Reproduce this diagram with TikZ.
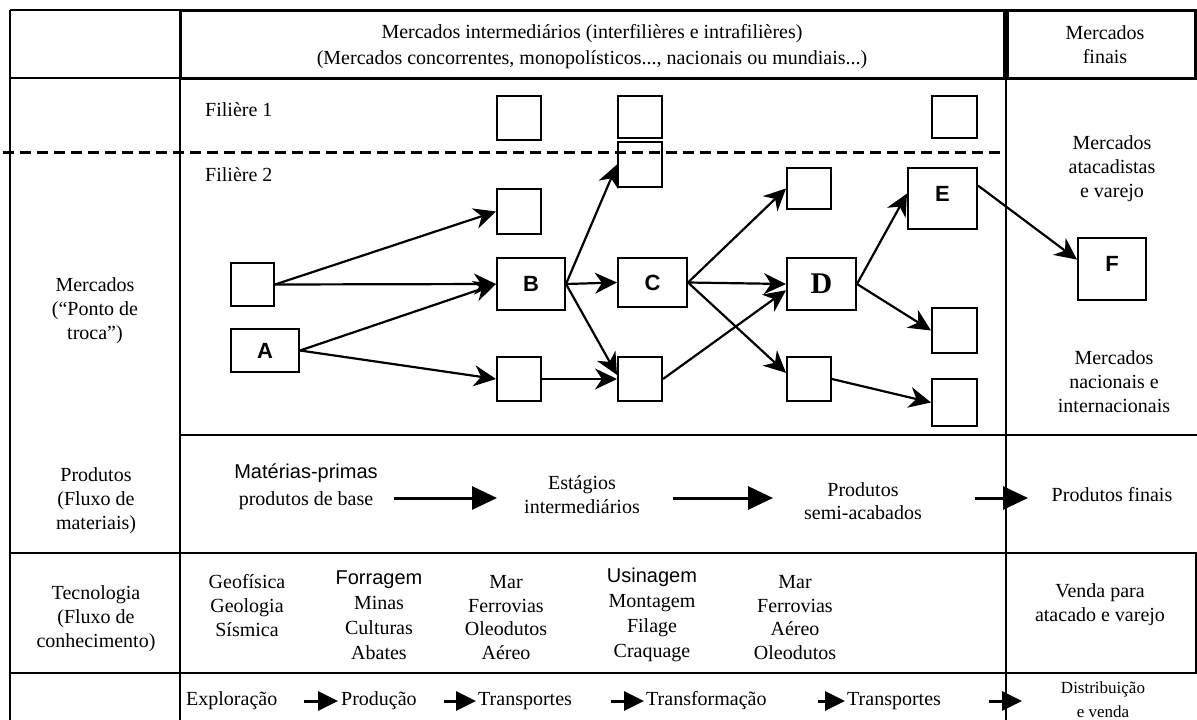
\documentclass[tikz,border=0pt]{standalone}
\usepackage{fontspec}
\setmainfont{Liberation Serif}
\setsansfont{Liberation Sans}
\usetikzlibrary{arrows.meta}

\tikzset{
  cell/.style={line width=2pt},
  frame/.style={line width=3pt},
  box/.style={draw, line width=2pt, inner sep=0pt, minimum width=44pt, minimum height=44pt},
  lett/.style={font=\fontsize{22}{24}\selectfont\sffamily\bfseries},
  link/.style={line width=2.2pt, -{Stealth[length=22pt,width=21pt,inset=7pt]}},
  txt/.style={font=\fontsize{20}{24}\selectfont, align=center, inner sep=0pt},
  bigflow/.style={line width=3pt, -{Triangle[length=25pt,width=23pt]}},
  smallflow/.style={line width=3pt, -{Triangle[length=20pt,width=19pt]}},
}

\begin{document}
\begin{tikzpicture}[x=1pt,y=-1pt]
\useasboundingbox (0,0) rectangle (1197,720);

% ---- table grid ----
\draw[cell] (10,10) -- (10,720);
\draw[cell] (10,10) -- (180,10);
\draw[cell] (10,78) -- (180,78);
\draw[frame] (180,10) rectangle (1004,78);
\draw[frame] (1007,10) rectangle (1195,78);
\draw[cell] (180,78) -- (180,720);
\draw[cell] (1006,78) -- (1006,720);
\draw[cell] (180,435) -- (1197,435);
\draw[cell] (10,553) -- (1197,553);
\draw[cell] (1195.5,553) -- (1195.5,673);
\draw[cell] (10,673) -- (1197,673);
\draw[line width=3pt, dash pattern=on 11pt off 6pt] (3,152) -- (1005,152);

% ---- header ----
\node[txt, font=\fontsize{20}{26}\selectfont] (hdr) at (592,47)
  {Mercados intermediários (interfilières e intrafilières)\\(Mercados concorrentes, monopolísticos..., nacionais ou mundiais...)};
\node[txt] (hfin) at (1105,45) {Mercados\\finais};

% ---- left column ----
\node[txt] (lmerc) at (95,311) {Mercados\\(“Ponto de\\troca”)};
\node[txt] (lprod) at (96,501) {Produtos\\(Fluxo de\\materiais)};
\node[txt] (ltec) at (96,619) {Tecnologia\\(Fluxo de\\conhecimento)};

% ---- filières ----
\node[txt, anchor=west] (fil1) at (205,110) {Filière 1};
\node[txt, anchor=west] (fil2) at (205,175) {Filière 2};

\node[box] (F1a) at (519,117.5) {};
\node[box, minimum height=42pt] (F1b) at (640,117) {};
\node[box, minimum width=45pt, minimum height=42pt] (F1c) at (954.5,117) {};
\node[box, minimum height=45pt] (T2) at (640,164.5) {};
\node[box, minimum height=45pt] (T1) at (519,211.5) {};
\node[box, minimum width=43pt, minimum height=43pt] (S1) at (252.5,284.5) {};
\node[box, lett, minimum width=68pt, minimum height=43pt] (A) at (265,350.5) {A};
\node[box, lett, minimum width=68pt, minimum height=52pt] (B) at (531,284) {B};
\node[box] (L1) at (519,379) {};
\node[box, lett, minimum width=69pt, minimum height=49pt] (C) at (652.5,282.5) {C};
\node[box] (L2) at (640,379) {};
\node[box, minimum height=41pt] (T3) at (809,188.5) {};
\node[box, font=\fontsize{30}{30}\selectfont\rmfamily\bfseries, minimum width=69pt, minimum height=52pt] (D) at (821.5,284) {D};
\node[box] (L3) at (809,379) {};
\node[box, minimum width=69pt, minimum height=61pt, label={[lett, yshift=5pt]center:E}] (E) at (942.5,198.5) {};
\node[box, minimum width=45pt, minimum height=45pt] (R1) at (954.5,330.5) {};
\node[box, minimum width=45pt, minimum height=47pt] (R2) at (954.5,402.5) {};
\node[box, minimum width=68pt, minimum height=62pt, label={[lett, yshift=5pt]center:F}] (F) at (1112,269) {};

% ---- links ----
\draw[link] (S1.east) -- (T1.west);
\draw[link] (S1.east) -- (B.west);
\draw[link] (A.east) -- (B.west);
\draw[link] (A.east) -- (L1.west);
\draw[link] (B.east) -- (T2.west);
\draw[link] (B.east) -- (C.west);
\draw[link] (B.east) -- (L2.170);
\draw[link] (L1.east) -- (L2.west);
\draw[link] (C.east) -- (T3.west);
\draw[link] (C.east) -- (D.west);
\draw[link] (C.east) -- (L3.165);
\draw[link] (L2.east) -- (D.190);
\draw[link] (D.east) -- (E.172);
\draw[link] (D.east) -- (R1.west);
\draw[link] (L3.east) -- (R2.west);
\draw[link] (E.20) -- (F.165);

% ---- right column ----
\node[txt] (atac) at (1112,169) {Mercados\\atacadistas\\e varejo};
\node[txt] (nac) at (1114,382) {Mercados\\nacionais e\\internacionais};
\node[txt] (pfin) at (1112,495) {Produtos finais};
\node[txt] (venda) at (1100,605) {Venda para\\atacado e varejo};
\node[txt, font=\fontsize{17}{24}\selectfont] (distr) at (1103,700) {Distribuição\\e venda};

% ---- products row ----
\node[txt, font=\fontsize{20}{27}\selectfont] (mp) at (306,487) {{\sffamily Matérias-primas}\\produtos de base};
\node[txt] (est) at (582,495) {Estágios\\intermediários};
\node[txt, font=\fontsize{20}{23}\selectfont] (semi) at (863,501.5) {Produtos\\semi-acabados};
\coordinate (p1a) at (394,498);
\coordinate (p1b) at (497,498);
\coordinate (p2a) at (673,498);
\coordinate (p2b) at (773,498);
\coordinate (p3a) at (975,498);
\coordinate (p3b) at (1028,498);
\draw[bigflow] (p1a) -- (p1b);
\draw[bigflow] (p2a) -- (p2b);
\draw[bigflow] (p3a) -- (p3b);

% ---- technology row ----
\node[txt] (t1) at (247,606) {Geofísica\\Geologia\\Sísmica};
\node[txt, font=\fontsize{20}{25}\selectfont] (t2) at (379,615) {{\sffamily Forragem}\\Minas\\Culturas\\Abates};
\node[txt, font=\fontsize{20}{23.7}\selectfont] (t3) at (506,617.5) {Mar\\Ferrovias\\Oleodutos\\Aéreo};
\node[txt, font=\fontsize{20}{25}\selectfont] (t4) at (652,615) {{\sffamily Usinagem}\\Montagem\\Filage\\Craquage};
\node[txt, font=\fontsize{20}{23.7}\selectfont] (t5) at (795,617.5) {Mar\\Ferrovias\\Aéreo\\Oleodutos};

% ---- activities row ----
\node[txt, anchor=west] (ex) at (186,701) {Exploração};
\node[txt, anchor=west] (pr) at (341,701) {Produção};
\node[txt, anchor=west] (tr1) at (478,701) {Transportes};
\node[txt, anchor=west] (tf) at (646,701) {Transformação};
\node[txt, anchor=west] (tr2) at (847,701) {Transportes};
\coordinate (dvin) at (1022,701);
\draw[smallflow] ([xshift=27pt]ex.east) -- ([xshift=-3pt]pr.west);
\draw[smallflow] ([xshift=27pt]pr.east) -- ([xshift=-2pt]tr1.west);
\draw[smallflow] ([xshift=39pt]tr1.east) -- ([xshift=-2pt]tf.west);
\draw[smallflow] ([xshift=-29pt]tr2.west) -- ([xshift=-2pt]tr2.west);
\draw[smallflow] ([xshift=48pt]tr2.east) -- (dvin);
\end{tikzpicture}
\end{document}
